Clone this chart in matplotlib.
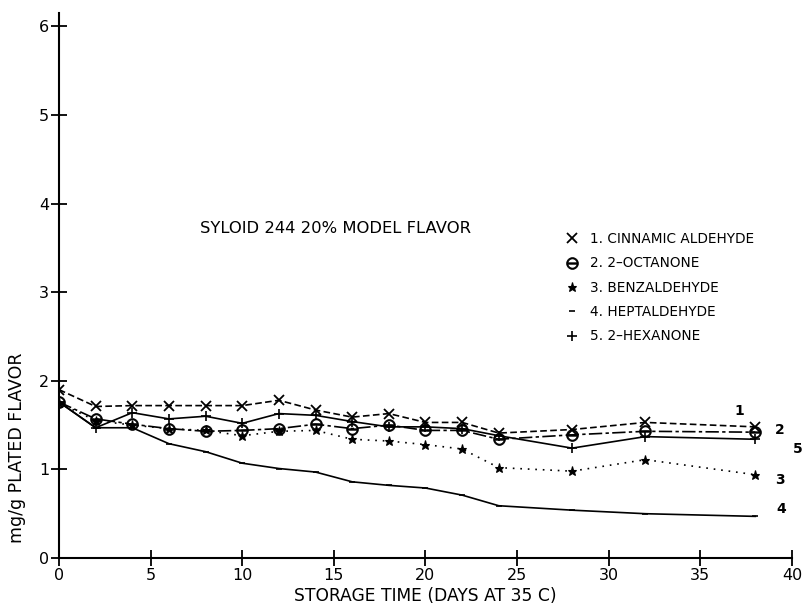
import matplotlib
matplotlib.use("Agg")
import matplotlib.pyplot as plt
import numpy as np

plt.rcParams['font.family'] = ['DejaVu Sans']

# storage days at 35 C
days = [0, 2, 4, 6, 8, 10, 12, 14, 16, 18, 20, 22, 24, 28, 32, 38]

cinnamic   = [1.90, 1.71, 1.72, 1.72, 1.72, 1.72, 1.78, 1.67, 1.59, 1.63, 1.53, 1.53, 1.41, 1.45, 1.53, 1.48]
octanone   = [1.76, 1.57, 1.51, 1.46, 1.43, 1.44, 1.46, 1.51, 1.46, 1.50, 1.44, 1.44, 1.34, 1.39, 1.43, 1.42]
benzald    = [1.75, 1.55, 1.50, 1.46, 1.44, 1.38, 1.43, 1.44, 1.34, 1.32, 1.28, 1.23, 1.02, 0.98, 1.11, 0.94]
heptald    = [1.76, 1.47, 1.47, 1.29, 1.20, 1.07, 1.01, 0.97, 0.86, 0.82, 0.79, 0.71, 0.59, 0.54, 0.50, 0.47]
hexanone   = [1.76, 1.47, 1.64, 1.57, 1.60, 1.52, 1.63, 1.61, 1.54, 1.48, 1.48, 1.46, 1.38, 1.24, 1.37, 1.34]

names = ['1. CINNAMIC ALDEHYDE', '2. 2\u2013OCTANONE', '3. BENZALDEHYDE',
         '4. HEPTALDEHYDE', '5. 2\u2013HEXANONE']
end_tags = ['1', '2', '3', '4', '5']

fig = plt.figure(figsize=(8.04, 6.08), dpi=100)
ax = fig.add_axes([0.0734, 0.0822, 0.9116, 0.8964])

series = [cinnamic, octanone, benzald, heptald, hexanone]
styles = [
    dict(ls=(0, (4, 2)), marker='x', ms=7.5, mew=1.3),
    dict(ls=(0, (8, 2, 2, 2)), marker=r'$\ominus$', ms=8.5, mew=0.5),
    dict(ls=(0, (1, 3.5)), marker='*', ms=6.5, mew=0.8),
    dict(ls='-', marker='_', ms=5, mew=1.2),
    dict(ls='-', marker='+', ms=7.5, mew=1.2),
]

handles = []
for vals, st, nm in zip(series, styles, names):
    ax.plot(days, vals, color='black', lw=1.2, ls=st['ls'],
            marker=st['marker'], ms=st['ms'], mew=st['mew'],
            mfc='none' if st['marker'] == 'x' else 'black', mec='black')
    h, = ax.plot([], [], ls='none', color='black', marker=st['marker'],
                 ms=st['ms'], mew=st['mew'], label=nm)
    handles.append(h)

# curve numbers beside the last points
tag_pos = [(37.15, 1.66), (39.33, 1.45), (39.33, 0.88), (39.4, 0.55), (40.3, 1.23)]
for tag, (tx, ty) in zip(end_tags, tag_pos):
    ax.text(tx, ty, tag, fontsize=10, fontweight='bold', ha='center',
            va='center', clip_on=False)

ax.text(7.7, 3.72, 'SYLOID 244 20% MODEL FLAVOR', fontsize=11.8,
        va='center', ha='left')

ax.legend(handles=handles, loc='upper left', bbox_to_anchor=(0.685, 0.608),
          frameon=False, handlelength=0.8, handletextpad=0.9,
          labelspacing=0.76, fontsize=9.8, borderaxespad=0)

ax.set_xlim(0, 40)
ax.set_ylim(0, 6.15)
ax.set_xticks(np.arange(0, 41, 5))
ax.set_yticks(np.arange(0, 7, 1))
ax.spines['top'].set_visible(False)
ax.spines['right'].set_visible(False)
ax.spines['left'].set_linewidth(1.5)
ax.spines['bottom'].set_linewidth(1.5)
ax.tick_params(direction='inout', length=12, width=1.3, labelsize=11.5)
ax.tick_params(axis='x', pad=1)
ax.tick_params(axis='y', pad=1)

ax.set_xlabel('STORAGE TIME (DAYS AT 35 C)', fontsize=12.3, labelpad=3)
fig.text(0.021, 1 - 448 / 608, 'mg/g PLATED FLAVOR', rotation=90,
         fontsize=12.5, ha='center', va='center')

fig.savefig('out.png', dpi=100)
